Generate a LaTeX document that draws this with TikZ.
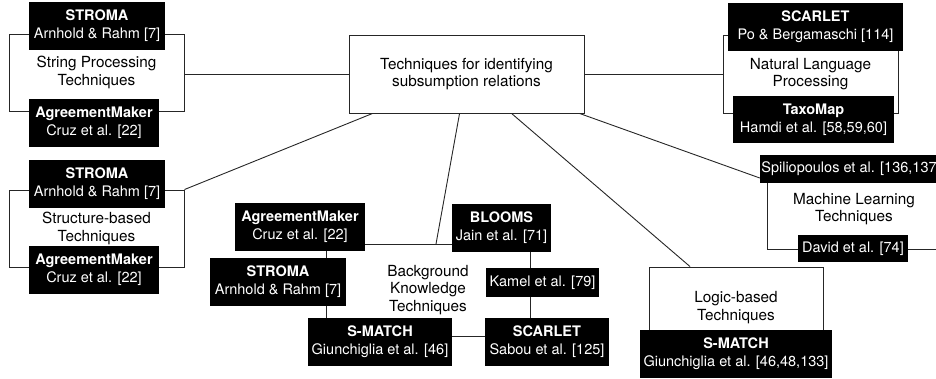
\documentclass[tikz,border=0pt]{standalone}
\usepackage{fontspec}
\setmainfont{TeX Gyre Heros}
\usetikzlibrary{backgrounds}
\begin{document}
\begin{tikzpicture}[x=1pt,y=-1pt,
  every node/.style={font=\fontsize{15.3}{17.5}\selectfont},
  link/.style={draw=black!85, line width=0.9pt},
  tag/.style={fill=black, text=white, align=center, inner sep=0pt,
    font=\fontsize{14.5}{18}\selectfont},
  group/.style={draw=black!85, line width=0.9pt, align=center, inner sep=0pt},
  topic/.style={draw=black!85, fill=white, line width=0.9pt, align=center, inner sep=0pt},
  plain/.style={align=center, inner sep=0pt},
  ]
\useasboundingbox (0,0) rectangle (936,378);
\clip (0,0) rectangle (936,378);

% open group frames with their labels
\node[group, minimum width=175pt, minimum height=77pt] (spg) at (96.5,72.5) {String Processing\\Techniques};
\node[group, minimum width=175pt, minimum height=77pt] (sbg) at (96.5,228.5) {Structure-based\\Techniques};
\node[group, minimum width=175pt, minimum height=78pt] (nlg) at (810.5,74) {Natural Language\\Processing};
\node[group, minimum width=174pt, minimum height=80pt] (mlg) at (854,209) {Machine Learning\\Techniques};

% central topic
\node[topic, minimum width=235pt, minimum height=78pt] (root) at (466.5,74) {Techniques for identifying\\subsumption relations};

% logic-based group
\node[topic, minimum width=174pt, minimum height=81pt] (logic) at (736,307.5) {Logic-based\\Techniques};

% background knowledge label
\node[plain] (bkl) at (428,290) {Background\\Knowledge\\Techniques};

% tools and references
\node[tag, minimum width=136pt, minimum height=48pt] (sp1) at (97,26) {\textbf{STROMA}\\Arnhold \& Rahm [7]};
\node[tag, minimum width=130pt, minimum height=48pt] (sp2) at (94,123) {\textbf{AgreementMaker}\\Cruz et al. [22]};
\node[tag, minimum width=136pt, minimum height=48pt] (sb1) at (97,184) {\textbf{STROMA}\\Arnhold \& Rahm [7]};
\node[tag, minimum width=130pt, minimum height=48pt] (sb2) at (94,270) {\textbf{AgreementMaker}\\Cruz et al. [22]};
\node[tag, minimum width=175pt, minimum height=48pt] (nl1) at (815.5,27) {\textbf{SCARLET}\\Po \& Bergamaschi [114]};
\node[tag, minimum width=161pt, minimum height=47pt] (nl2) at (813.5,119.5) {\textbf{TaxoMap}\\Hamdi et al. [58,59,60]};
\node[tag, minimum width=182pt, minimum height=28pt] (spil) at (851,169) {Spiliopoulos et al. [136,137]};
\node[tag, minimum width=110pt, minimum height=27pt] (david) at (853,248.5) {David et al. [74]};
\node[tag, minimum width=130pt, minimum height=48pt] (bkam) at (300,227) {\textbf{AgreementMaker}\\Cruz et al. [22]};
\node[tag, minimum width=136pt, minimum height=48pt] (bkst) at (278,282) {\textbf{STROMA}\\Arnhold \& Rahm [7]};
\node[tag, minimum width=144pt, minimum height=48pt] (bksm) at (380,342) {\textbf{S-MATCH}\\Giunchiglia et al. [46]};
\node[tag, minimum width=99pt, minimum height=48pt] (blooms) at (501.5,228) {\textbf{BLOOMS}\\Jain et al. [71]};
\node[tag, minimum width=113pt, minimum height=29pt] (kamel) at (542.5,282.5) {Kamel et al. [79]};
\node[tag, minimum width=124pt, minimum height=48pt] (bksc) at (547,342) {\textbf{SCARLET}\\Sabou et al. [125]};
\node[tag, minimum width=192pt, minimum height=48pt] (lsm) at (736,354) {\textbf{S-MATCH}\\Giunchiglia et al. [46,48,133]};

% junction points of the background knowledge chain
\coordinate (bkjoin) at (436,244);
\coordinate (bkleft) at (326,336);
\coordinate (bkright) at (530,336);

\begin{pgfonlayer}{background}
  % root to the technique groups
  \draw[link] (root.west) -- (root.west -| spg.east);
  \draw[link] (root.east) -- (root.east -| nlg.west);
  \draw[link] ([xshift=24pt]root.south west) -- (sbg.north east);
  \draw[link] ([xshift=111pt]root.south west) -- (bkjoin);
  \draw[link] ([xshift=163pt]root.south west) -- ([xshift=-46pt]logic.north);
  \draw[link] ([xshift=231pt]root.south west) -- ([yshift=-9pt]spil.west);
  % background knowledge chain
  \draw[link] (bkjoin -| bkam.east) -- (bkjoin -| blooms.west);
  \draw[link] (bkam.south -| bkleft) -- (bksm.north -| bkleft);
  \draw[link] (bkleft -| bksm.east) -- (bkright -| bksc.west);
  \draw[link] (blooms.south -| bkright) -- (bksc.north -| bkright);
\end{pgfonlayer}
\end{tikzpicture}
\end{document}
